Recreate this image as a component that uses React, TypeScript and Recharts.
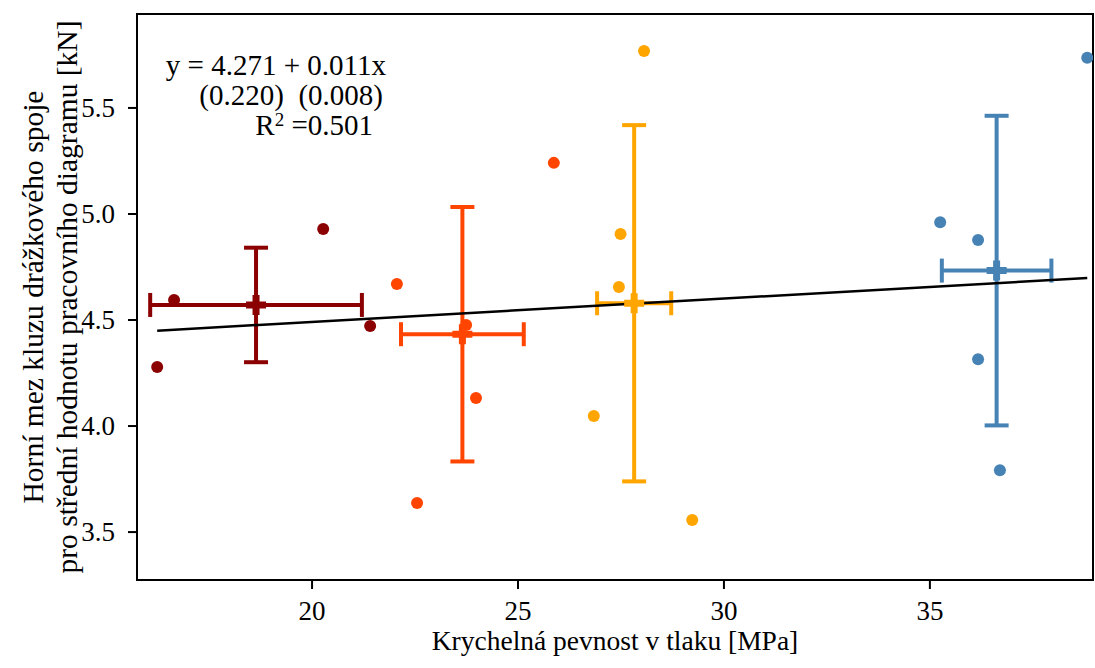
import { ScatterChart, Scatter, XAxis, YAxis, ErrorBar, ReferenceLine, ReferenceArea } from 'recharts';

document.body.style.margin = '0';

const FONT = '"Liberation Serif", "DejaVu Serif", serif';

// raw measurements per group [MPa, kN]
const darkRedX = [16.24, 16.65, 20.27, 21.41];
const darkRedY = [4.278, 4.594, 4.929, 4.472];
const orangeRedX = [22.06, 25.87, 23.74, 23.98, 22.55];
const orangeRedY = [4.670, 5.241, 4.476, 4.132, 3.637];
const orangeX = [28.06, 27.49, 27.45, 26.84, 29.23];
const orangeY = [5.769, 4.906, 4.656, 4.047, 3.557];
const blueX = [38.82, 35.25, 36.17, 36.17, 36.70];
const blueY = [5.737, 4.961, 4.877, 4.315, 3.792];

// group means and standard deviations
const groupColors = ['#8b0000', '#ff4500', '#ffa500', '#4682b4'];
const meanX = [18.64, 23.65, 27.82, 36.62];
const meanY = [4.571, 4.433, 4.579, 4.733];
const sdX = [2.57, 1.49, 0.9, 1.33];
const sdY = [0.27, 0.6, 0.84, 0.73];

// fit y = a + b x
const fitA = 4.271;
const fitB = 0.011;
const fitFrom = 16.24;
const fitTo = 38.82;

const xTicks = [20, 25, 30, 35];
const yTicks = [3.5, 4.0, 4.5, 5.0, 5.5];
const xDomain: [number, number] = [15.75, 38.96];
const yDomain: [number, number] = [3.274, 5.943];

const groups = [
  { xs: darkRedX, ys: darkRedY },
  { xs: orangeRedX, ys: orangeRedY },
  { xs: orangeX, ys: orangeY },
  { xs: blueX, ys: blueY },
].map((g, i) => ({
  color: groupColors[i],
  points: g.xs.map((x, j) => ({ x, y: g.ys[j] })),
  mean: [{ x: meanX[i], y: meanY[i], ex: sdX[i], ey: sdY[i] }],
}));

const dot = (color: string) => (p: any) => <circle cx={p.cx} cy={p.cy} r={6} fill={color} />;

// filled plus marker for the group mean
const plus = (color: string) => (p: any) => {
  const a = 3.5;
  const b = 10;
  const { cx, cy } = p;
  const d = `M${cx - a},${cy - b}h${2 * a}v${b - a}h${b - a}v${2 * a}h${a - b}v${b - a}h${-2 * a}v${a - b}h${a - b}v${-2 * a}h${b - a}z`;
  return <path d={d} fill={color} />;
};

const YLabel = (props: any) => {
  const { y, height } = props.viewBox;
  const cy = y + height / 2;
  return (
    <g fontFamily={FONT} fontSize={29.5} fill="#000">
      <text x={33} y={cy} textAnchor="middle" dominantBaseline="central" transform={`rotate(-90, 33, ${cy})`}>
        Horní mez kluzu drážkového spoje
      </text>
      <text x={67} y={cy} textAnchor="middle" dominantBaseline="central" transform={`rotate(-90, 67, ${cy})`}>
        pro střední hodnotu pracovního diagramu [kN]
      </text>
    </g>
  );
};

const XLabel = (props: any) => {
  const { x, width } = props.viewBox;
  return (
    <text x={x + width / 2} y={650} textAnchor="middle" fontFamily={FONT} fontSize={27.5} fill="#000">
      Krychelná pevnost v tlaku [MPa]
    </text>
  );
};

const XTick = (p: any) => (
  <text x={p.x} y={p.y} dy="0.71em" textAnchor="middle" style={{ fontFamily: FONT }} fontSize={27} fill="#000">
    {p.payload.value}
  </text>
);

const YTick = (p: any) => (
  <text x={p.x} y={p.y} dy="0.34em" textAnchor="end" style={{ fontFamily: FONT }} fontSize={27} fill="#000">
    {Number(p.payload.value).toFixed(1)}
  </text>
);

export default function App() {
  return (
    <div style={{ position: 'relative', width: 1095, height: 668, background: '#fff' }}>
      <ScatterChart width={1095} height={668} margin={{ top: 14, right: 2, bottom: 0, left: 0 }}>
        <XAxis
          type="number"
          dataKey="x"
          domain={xDomain}
          ticks={xTicks}
          allowDataOverflow
          height={88}
          tick={(p: any) => <XTick {...p} />}
          tickSize={9}
          tickMargin={12}
          stroke="#000"
          strokeWidth={2}
          label={<XLabel />}
        />
        <YAxis
          type="number"
          dataKey="y"
          domain={yDomain}
          ticks={yTicks}
          allowDataOverflow
          width={137}
          tick={(p: any) => <YTick {...p} />}
          tickSize={9}
          tickMargin={13}
          stroke="#000"
          strokeWidth={2}
          label={<YLabel />}
        />
        <ReferenceArea x1={xDomain[0]} x2={xDomain[1]} y1={yDomain[0]} y2={yDomain[1]} fill="none" stroke="#000" strokeWidth={2} />
        {groups.map((g, i) => (
          <Scatter key={`p${i}`} data={g.points} shape={dot(g.color)} isAnimationActive={false} />
        ))}
        {groups.map((g, i) => (
          <Scatter key={`m${i}`} data={g.mean} shape={plus(g.color)} isAnimationActive={false}>
            <ErrorBar dataKey="ex" direction="x" width={12} strokeWidth={4} stroke={g.color} />
            <ErrorBar dataKey="ey" direction="y" width={12} strokeWidth={4} stroke={g.color} />
          </Scatter>
        ))}
        <ReferenceLine
          segment={[
            { x: fitFrom, y: fitA + fitB * fitFrom },
            { x: fitTo, y: fitA + fitB * fitTo },
          ]}
          stroke="#000"
          strokeWidth={2.5}
        />
      </ScatterChart>
      <div
        style={{
          position: 'absolute',
          left: 100,
          top: 50,
          width: 286,
          textAlign: 'right',
          fontFamily: FONT,
          fontSize: 29,
          lineHeight: '30px',
          color: '#000',
          whiteSpace: 'nowrap',
        }}
      >
        <div>y = 4.271 + 0.011x</div>
        <div style={{ paddingRight: 3 }}>(0.220)&nbsp;&nbsp;(0.008)</div>
        <div style={{ paddingRight: 13 }}>
          R<sup style={{ fontSize: 19, lineHeight: 0, verticalAlign: '0.45em' }}>2</sup> =0.501
        </div>
      </div>
    </div>
  );
}
